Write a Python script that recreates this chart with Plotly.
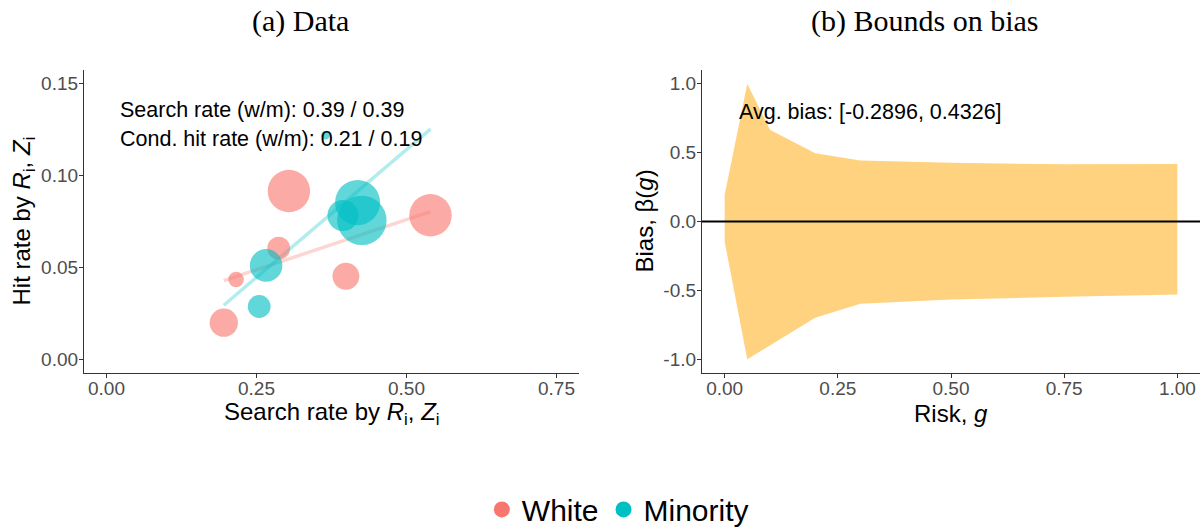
import plotly.graph_objects as go

# ---------------- data ----------------
# Panel (a): search rate vs hit rate, bubble = group size
white_search = [0.1955, 0.216, 0.287, 0.304, 0.399, 0.540]
white_hit = [0.0199, 0.0434, 0.0605, 0.0916, 0.0452, 0.0784]
white_weight = [4.0, 1.2, 2.6, 9.0, 3.6, 9.0]

minority_search = [0.2545, 0.266, 0.394, 0.4185, 0.4256, 0.365]
minority_hit = [0.0287, 0.0511, 0.0783, 0.0853, 0.0756, 0.122]
minority_weight = [2.6, 5.3, 4.8, 10.2, 12.2, 0.36]

fit_x = [0.1955, 0.540]
fit_white_y = [0.0428, 0.0804]
fit_minority_y = [0.0294, 0.1253]

# Panel (b): bounds on bias by risk
risk_g = [0.0, 0.05, 0.1, 0.2, 0.3, 0.5, 0.75, 1.0]
bias_upper = [0.193, 1.0, 0.667, 0.496, 0.443, 0.427, 0.415, 0.417]
bias_lower = [-0.145, -1.0, -0.9, -0.699, -0.598, -0.566, -0.547, -0.530]

x_ticks_a = [0.0, 0.25, 0.50, 0.75]
y_ticks_a = [0.0, 0.05, 0.10, 0.15]
x_ticks_b = [0.0, 0.25, 0.50, 0.75, 1.0]
y_ticks_b = [-1.0, -0.5, 0.0, 0.5, 1.0]

groups = ["White", "Minority"]

text_a1 = "Search rate (w/m): 0.39 / 0.39"
text_a2 = "Cond. hit rate (w/m): 0.21 / 0.19"
text_b = "Avg. bias: [-0.2896, 0.4326]"
xtitle_a = "Search rate by <i>R</i><sub>i</sub>, <i>Z</i><sub>i</sub>"
ytitle_a = "Hit rate by <i>R</i><sub>i</sub>, <i>Z</i><sub>i</sub>"
xtitle_b = "Risk, <i>g</i>"
ytitle_b = "Bias, β(<i>g</i>)"

WHITE = "#F8766D"
MINORITY = "#00BFC4"
SANS = "Liberation Sans, Arial, sans-serif"
SERIF = "Liberation Serif, Times New Roman, serif"

fig = go.Figure()

# regression lines
fig.add_trace(go.Scatter(x=fit_x, y=fit_white_y, mode="lines",
                         line=dict(color="rgba(248,118,109,0.3)", width=3.5),
                         showlegend=False, hoverinfo="skip", xaxis="x", yaxis="y"))
fig.add_trace(go.Scatter(x=fit_x, y=fit_minority_y, mode="lines",
                         line=dict(color="rgba(0,191,196,0.3)", width=3.5),
                         showlegend=False, hoverinfo="skip", xaxis="x", yaxis="y"))

# bubbles
fig.add_trace(go.Scatter(x=white_search, y=white_hit, mode="markers", name=groups[0],
                         legendgroup=groups[0], showlegend=False,
                         marker=dict(color=WHITE, opacity=0.62, size=white_weight,
                                     sizemode="area", sizeref=0.01, line=dict(width=0)),
                         xaxis="x", yaxis="y"))
fig.add_trace(go.Scatter(x=minority_search, y=minority_hit, mode="markers", name=groups[1],
                         legendgroup=groups[1], showlegend=False,
                         marker=dict(color=MINORITY, opacity=0.62, size=minority_weight,
                                     sizemode="area", sizeref=0.01, line=dict(width=0)),
                         xaxis="x", yaxis="y"))

# legend keys (solid colour, as in the reference legend)
for name, col in zip(groups, [WHITE, MINORITY]):
    fig.add_trace(go.Scatter(x=[None], y=[None], mode="markers", name=name, legendgroup=name,
                             marker=dict(color=col, size=20, line=dict(width=0)),
                             xaxis="x", yaxis="y"))

# ribbon
fig.add_trace(go.Scatter(x=risk_g, y=bias_lower, mode="lines", line=dict(width=0),
                         showlegend=False, hoverinfo="skip", xaxis="x2", yaxis="y2"))
fig.add_trace(go.Scatter(x=risk_g, y=bias_upper, mode="lines", line=dict(width=0),
                         fill="tonexty", fillcolor="rgba(255,165,0,0.5)",
                         showlegend=False, hoverinfo="skip", xaxis="x2", yaxis="y2"))

fig.add_shape(type="line", xref="x2 domain", yref="y2", x0=0, x1=1, y0=0, y1=0,
              line=dict(color="black", width=2))

axis_common = dict(showgrid=False, zeroline=False, showline=True, linecolor="#333333",
                   linewidth=1.2, ticks="outside", ticklen=4, tickcolor="#333333",
                   tickfont=dict(family=SANS, size=19, color="#4D4D4D"),
                   automargin=False)

ytop, ybot = (529 - 70) / 529, (529 - 373) / 529

fig.update_layout(
    width=1202, height=529,
    margin=dict(l=0, r=0, t=0, b=0, autoexpand=False),
    paper_bgcolor="white", plot_bgcolor="white",
    xaxis=dict(domain=[84 / 1202, 579 / 1202], range=[-0.0375, 0.7875], ticklabelstandoff=-6,
               tickvals=x_ticks_a, ticktext=["0.00", "0.25", "0.50", "0.75"], anchor="y",
               **axis_common),
    yaxis=dict(domain=[ybot, ytop], range=[-0.0075, 0.1575], ticklabelstandoff=-3,
               tickvals=y_ticks_a, ticktext=["0.00", "0.05", "0.10", "0.15"], anchor="x",
               **axis_common),
    xaxis2=dict(domain=[702 / 1202, 1200 / 1202], range=[-0.05, 1.05], ticklabelstandoff=-6,
                tickvals=x_ticks_b, ticktext=["0.00", "0.25", "0.50", "0.75", "1.00"], anchor="y2",
                **axis_common),
    yaxis2=dict(domain=[ybot, ytop], range=[-1.1, 1.1], ticklabelstandoff=-3,
                tickvals=y_ticks_b, ticktext=["-1.0", "-0.5", "0.0", "0.5", "1.0"], anchor="x2",
                **axis_common),
    legend=dict(orientation="h", x=0.514, xanchor="center", y=0.037, yanchor="middle",
                font=dict(family=SANS, size=30, color="black"), traceorder="normal",
                bgcolor="rgba(0,0,0,0)"),
    showlegend=True,
)

# axis titles
title_font = dict(family=SANS, size=24, color="black")
xtitle_y = (529 - 413) / 529
fig.add_annotation(text=xtitle_a, x=0.5, y=xtitle_y, xref="x domain", yref="paper",
                   xanchor="center", yanchor="middle", showarrow=False, font=title_font)
fig.add_annotation(text=xtitle_b, x=0.5, y=xtitle_y, xref="x2 domain", yref="paper",
                   xanchor="center", yanchor="middle", showarrow=False, font=title_font)
fig.add_annotation(text=ytitle_a, x=23 / 1202, y=0.5, xref="paper", yref="y domain",
                   xanchor="center", yanchor="middle", textangle=-90, showarrow=False,
                   font=title_font)
fig.add_annotation(text=ytitle_b, x=644 / 1202, y=0.5, xref="paper", yref="y2 domain",
                   xanchor="center", yanchor="middle", textangle=-90, showarrow=False,
                   font=title_font)

fig.add_annotation(text=text_a1, x=0.019, y=0.1355, xref="x", yref="y", xanchor="left",
                   yanchor="middle", showarrow=False, font=dict(family=SANS, size=21.5, color="black"))
fig.add_annotation(text=text_a2, x=0.019, y=0.1198, xref="x", yref="y", xanchor="left",
                   yanchor="middle", showarrow=False, font=dict(family=SANS, size=21.5, color="black"))
fig.add_annotation(text=text_b, x=0.0276, y=0.795, xref="x2", yref="y2", xanchor="left",
                   yanchor="middle", showarrow=False, font=dict(family=SANS, size=21.5, color="black"))

fig.add_annotation(text="(a) Data", x=300 / 1202, y=(529 - 21) / 529, xref="paper", yref="paper",
                   xanchor="center", yanchor="middle", showarrow=False,
                   font=dict(family=SERIF, size=30, color="black"))
fig.add_annotation(text="(b) Bounds on bias", x=925 / 1202, y=(529 - 21) / 529, xref="paper",
                   yref="paper", xanchor="center", yanchor="middle", showarrow=False,
                   font=dict(family=SERIF, size=30, color="black"))

fig.write_html("out.html")
